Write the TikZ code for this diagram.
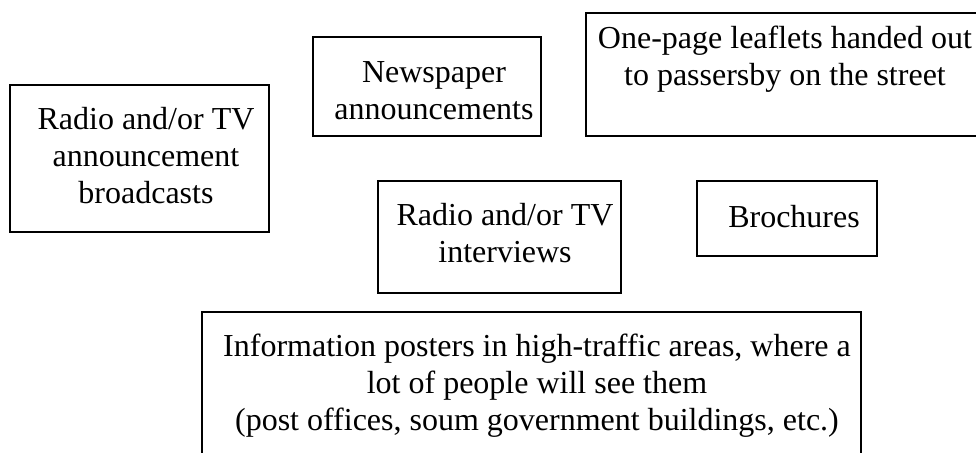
\documentclass[tikz,border=0pt]{standalone}
\usepackage{fontspec}
\setmainfont{Liberation Serif}
\begin{document}
\begin{tikzpicture}[x=1pt,y=-1pt,
  card/.style={draw=black, line width=2pt, inner sep=0pt, anchor=north west},
  caption/.style={font=\fontsize{32}{36.8}\selectfont, align=center, anchor=base, inner sep=0pt}]
  \clip (0,0) rectangle (976,452);
  \path[use as bounding box] (0,0) rectangle (976,452);

  % outlined boxes
  \node[card, minimum width=259pt, minimum height=147pt] (broadcast) at (9,84) {};
  \node[card, minimum width=228pt, minimum height=99pt]  (news)      at (312,36) {};
  \node[card, minimum width=420pt, minimum height=123pt] (leaflets)  at (585,12) {};
  \node[card, minimum width=243pt, minimum height=112pt] (interview) at (377,180) {};
  \node[card, minimum width=180pt, minimum height=75pt]  (brochure)  at (696,180) {};
  \node[card, minimum width=659pt, minimum height=200pt] (posters)   at (201,311) {};

  % box texts, placed by the baseline of their last line
  \node[caption] (broadcast-text) at (146,203) {Radio and/or TV\\announcement\\broadcasts};
  \node[caption] (news-text)      at (434,119) {Newspaper\\announcements};
  \node[caption] (leaflets-text)  at (785,85)  {One-page leaflets handed out\\to passersby on the street};
  \node[caption] (interview-text) at (505,262) {Radio and/or TV\\interviews};
  \node[caption] (brochure-text)  at (794,227) {Brochures};
  \node[caption] (posters-text)   at (537,430) {Information posters in high-traffic areas, where a\\lot of people will see them\\(post offices, soum government buildings, etc.)};
\end{tikzpicture}
\end{document}
